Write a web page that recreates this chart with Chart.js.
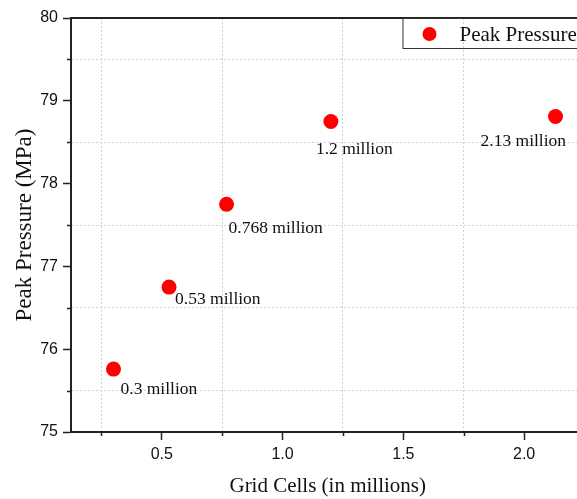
<!DOCTYPE html>
<html>
<head>
<meta charset="utf-8">
<script src="https://cdn.jsdelivr.net/npm/chart.js@4/dist/chart.umd.min.js"></script>
<style>
  html, body { margin: 0; padding: 0; background: #fff; overflow: hidden; }
  #wrap { width: 592px; height: 499px; }
</style>
</head>
<body>
<div id="wrap"><canvas id="myChart" width="592" height="499"></canvas></div>
<script>
const gridCells = [0.3, 0.53, 0.768, 1.2, 2.13];
const peakPressure = [75.76, 76.75, 77.75, 78.75, 78.81];
const pointLabels = ['0.3 million', '0.53 million', '0.768 million', '1.2 million', '2.13 million'];
const yTicks = [75, 76, 77, 78, 79, 80];
const xTickLabels = ['0.5', '1.0', '1.5', '2.0'];

// where each label sits relative to its point (px)
const labelOffsets = [[7, 20], [6, 12], [2, 24], [-15, 28], [-75, 25]];

const serif = "'Liberation Serif', 'Times New Roman', serif";
const sans = "'Liberation Sans', Arial, sans-serif";

const isWhole = (v, step) => Math.abs(v / step - Math.round(v / step)) < 1e-6;

const extras = {
  id: 'extras',
  afterDraw(chart) {
    const ctx = chart.ctx;
    const area = chart.chartArea;
    const xs = chart.scales.x, ys = chart.scales.y;
    ctx.save();

    // top + right frame
    ctx.strokeStyle = '#222';
    ctx.lineWidth = 2;
    ctx.beginPath();
    ctx.moveTo(area.left, area.top);
    ctx.lineTo(area.right, area.top);
    ctx.lineTo(area.right, area.bottom);
    ctx.stroke();

    // short minor ticks
    ctx.lineWidth = 1.5;
    ctx.beginPath();
    ys.ticks.forEach(t => {
      if (!isWhole(t.value, 1)) {
        const py = Math.round(ys.getPixelForValue(t.value)) + 0.5;
        ctx.moveTo(area.left - 4, py);
        ctx.lineTo(area.left, py);
      }
    });
    xs.ticks.forEach(t => {
      if (!isWhole(t.value, 0.5)) {
        const px = Math.round(xs.getPixelForValue(t.value)) + 0.5;
        ctx.moveTo(px, area.bottom);
        ctx.lineTo(px, area.bottom + 4);
      }
    });
    ctx.stroke();

    // point labels
    ctx.fillStyle = '#111';
    ctx.font = '17.5px ' + serif;
    ctx.textAlign = 'left';
    ctx.textBaseline = 'middle';
    const meta = chart.getDatasetMeta(0);
    meta.data.forEach((pt, i) => {
      ctx.fillText(pointLabels[i], pt.x + labelOffsets[i][0], pt.y + labelOffsets[i][1]);
    });

    // legend box
    const bx = area.right - 182, by = area.top;
    ctx.strokeStyle = '#333';
    ctx.lineWidth = 1;
    ctx.strokeRect(bx + 0.5, by + 0.5, area.right - bx, 30);
    ctx.fillStyle = '#ff0000';
    ctx.beginPath();
    ctx.arc(bx + 27, by + 16, 7, 0, Math.PI * 2);
    ctx.fill();
    ctx.fillStyle = '#111';
    ctx.font = '21px ' + serif;
    ctx.fillText(chart.data.datasets[0].label, bx + 57, by + 17);

    ctx.restore();
  }
};

const ctx = document.getElementById('myChart').getContext('2d');
const myChart = new Chart(ctx, {
  type: 'scatter',
  data: {
    datasets: [{
      label: 'Peak Pressure',
      data: gridCells.map((x, i) => ({ x: x, y: peakPressure[i] })),
      backgroundColor: '#ff0000',
      borderColor: '#ff0000',
      pointRadius: 7.5,
      pointHoverRadius: 7.5,
      borderWidth: 0
    }]
  },
  options: {
    responsive: false,
    animation: false,
    layout: { padding: { top: 18, right: 6, left: 0, bottom: 0 } },
    plugins: {
      legend: { display: false },
      tooltip: { enabled: false }
    },
    scales: {
      x: {
        type: 'linear',
        min: 0.124,
        max: 2.25,
        afterFit: (s) => { s.height = 67; },
        ticks: {
          stepSize: 0.25,
          includeBounds: false,
          autoSkip: false,
          maxRotation: 0,
          padding: 5,
          color: '#111',
          font: { family: sans, size: 16 },
          callback: (v) => {
            const lbl = Number(v).toFixed(1);
            return isWhole(v, 0.5) && xTickLabels.includes(lbl) ? lbl : '';
          }
        },
        grid: {
          drawTicks: true,
          tickLength: 8,
          tickWidth: 1.5,
          tickBorderDash: [],
          color: (c) => (c.tick && !isWhole(c.tick.value, 0.5)) ? '#d0d0d0' : 'rgba(0,0,0,0)',
          tickColor: (c) => (c.tick && isWhole(c.tick.value, 0.5)) ? '#222' : 'rgba(0,0,0,0)',
          lineWidth: 1
        },
        border: { color: '#222', width: 2, dash: [2, 2] },
        title: {
          display: true,
          text: 'Grid Cells (in millions)',
          color: '#111',
          font: { family: serif, size: 21 },
          padding: { top: 0, bottom: 0 }
        }
      },
      y: {
        min: 75,
        max: 80,
        afterFit: (s) => { s.width = 71; },
        ticks: {
          stepSize: 0.5,
          includeBounds: false,
          padding: 5,
          color: '#111',
          font: { family: sans, size: 16 },
          callback: (v) => (isWhole(v, 1) && yTicks.includes(Math.round(v))) ? String(Math.round(v)) : ''
        },
        grid: {
          drawTicks: true,
          tickLength: 8,
          tickWidth: 1.5,
          tickBorderDash: [],
          color: (c) => (c.tick && !isWhole(c.tick.value, 1)) ? '#d0d0d0' : 'rgba(0,0,0,0)',
          tickColor: (c) => (c.tick && isWhole(c.tick.value, 1)) ? '#222' : 'rgba(0,0,0,0)',
          lineWidth: 1
        },
        border: { color: '#222', width: 2, dash: [2, 2] },
        title: {
          display: true,
          text: 'Peak Pressure (MPa)',
          color: '#111',
          font: { family: serif, size: 23 },
          padding: { top: 11, bottom: 0 }
        }
      }
    }
  },
  plugins: [extras]
});
</script>
</body>
</html>
